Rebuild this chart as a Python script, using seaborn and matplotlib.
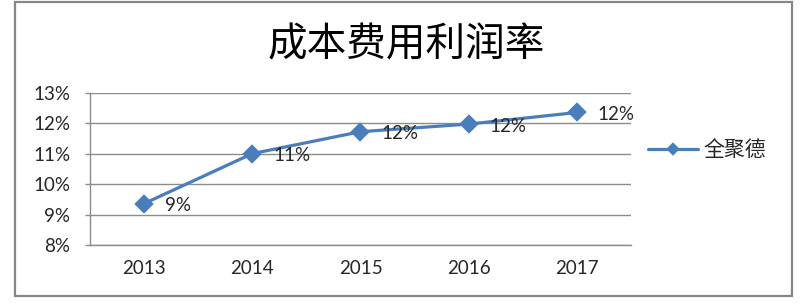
import numpy as np
import pandas as pd
import matplotlib
matplotlib.use("Agg")
import matplotlib.pyplot as plt
from matplotlib.patches import Rectangle
from matplotlib.ticker import FuncFormatter
import seaborn as sns

# ---- data ----
title = "成本费用利润率"
series_name = "全聚德"
years = ["2013", "2014", "2015", "2016", "2017"]
rates = [9.36, 11.0, 11.72, 11.97, 12.35]   # percent
y_ticks = [8, 9, 10, 11, 12, 13]

sns.set_style("white")
plt.rcParams["font.family"] = ["Lato", "Noto Sans CJK SC", "DejaVu Sans"]

W, H = 804, 306
fig = plt.figure(figsize=(W / 100, H / 100), dpi=100)
ax = fig.add_axes([90 / W, 1 - 245 / H, (631 - 90) / W, (245 - 92.7) / H])

line_color = "#4a7ebb"
grid_color = "#8c8c8c"
text_color = "#262626"
fs = 13.5

df = pd.DataFrame({"year": years, "rate": rates})
sns.pointplot(data=df, x="year", y="rate", order=years, color=line_color,
              markers="D", linestyles="-", errorbar=None, ax=ax,
              markersize=8, linewidth=2.3)

ax.set_xlim(-0.5, len(years) - 0.5)
ax.set_ylim(y_ticks[0], y_ticks[-1])
ax.set_yticks(y_ticks)
ax.yaxis.set_major_formatter(FuncFormatter(lambda v, p: f"{v:.0f}%"))
ax.set_xlabel("")
ax.set_ylabel("")

ax.yaxis.grid(True, color=grid_color, lw=1)
ax.xaxis.grid(False)
ax.set_axisbelow(True)
for s in ["top", "right"]:
    ax.spines[s].set_visible(False)
for s in ["left", "bottom"]:
    ax.spines[s].set_visible(True)
    ax.spines[s].set_color(grid_color)
    ax.spines[s].set_linewidth(1)

ax.set_xticks(np.arange(-0.5, len(years), 1), minor=True)
ax.tick_params(axis="x", which="major", length=0, pad=11, labelsize=fs, labelcolor=text_color)
ax.tick_params(axis="x", which="minor", length=3.8, width=1, color=grid_color, direction="out")
ax.tick_params(axis="y", which="major", length=3.8, width=1, color=grid_color, direction="out",
               pad=10.5, labelsize=fs, labelcolor=text_color, left=True)

for i, v in enumerate(rates):
    ax.annotate(f"{v:.0f}%", xy=(i, v), xytext=(15, -1.5), textcoords="offset points",
                ha="left", va="center", fontsize=fs, color=text_color)

# title
fig.text(406 / W, 1 - 45 / H, title, ha="center", va="center", fontsize=28.5,
         family=["Noto Sans CJK SC", "DejaVu Sans"], color="black")

# legend
handle = ax.lines[0]
leg = fig.legend([handle], [series_name], loc="center left",
                 bbox_to_anchor=(648 / W, 1 - 150 / H), frameon=False,
                 borderpad=0, borderaxespad=0, handlelength=2.4, handletextpad=0.25,
                 markerscale=0.7,
                 prop={"family": ["Noto Sans CJK SC", "DejaVu Sans"], "size": 15})

# outer border
fig.add_artist(Rectangle((15 / W, 1 - 295.5 / H), (792 - 15) / W, (295.5 - 2) / H,
                         transform=fig.transFigure, fill=False, ec="#868686", lw=1.6))

fig.savefig("out.png", dpi=100)
